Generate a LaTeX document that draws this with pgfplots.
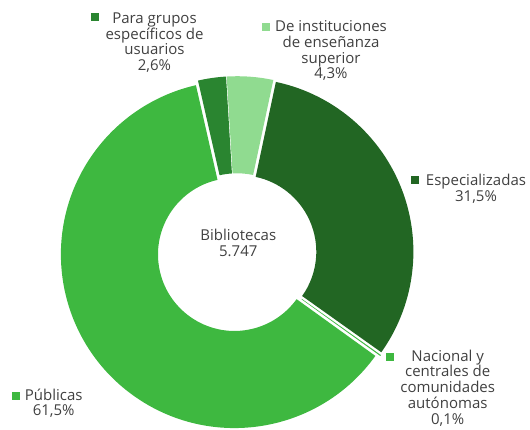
\documentclass[border=0pt]{standalone}
\usepackage{fontspec}
\setmainfont{Open Sans}
\usepackage{pgfplots}
\usepackage{pgfplotstable}
\pgfplotsset{compat=1.18}
\definecolor{publicas}{HTML}{3EB840}
\definecolor{grupos}{HTML}{2A8530}
\definecolor{instit}{HTML}{90DB90}
\definecolor{espec}{HTML}{226623}
\definecolor{txt}{HTML}{404040}

% share of each kind of library, clockwise from the first slice
\pgfplotstableread{
share color
31.5  espec
0.1   publicas
61.5  publicas
2.6   grupos
4.3   instit
}\slices

\def\cx{237}\def\cy{176.2}
\def\rout{173.6}\def\rin{76.5}
\def\startangle{78}\def\explode{3}
\tikzset{lbl/.style={font=\fontsize{15}{16}\selectfont, text=txt, inner sep=0pt, anchor=base}}

\begin{document}
\begin{tikzpicture}
\begin{axis}[
  scale only axis, width=530pt, height=429pt,
  xmin=0, xmax=530, ymin=0, ymax=429,
  hide axis, clip=false,
]
\coordinate (bbsw) at (axis cs:0,0);
\coordinate (bbne) at (axis cs:530,429);

\pgfplotstablegetrowsof{\slices}
\pgfmathtruncatemacro\nrows{\pgfplotsretval-1}
\def\cum{0}
\pgfplotsforeachungrouped \i in {0,...,\nrows}{
  \pgfplotstablegetelem{\i}{share}\of\slices \let\val\pgfplotsretval
  \pgfplotstablegetelem{\i}{color}\of\slices \let\col\pgfplotsretval
  \pgfmathsetmacro\aS{\startangle-3.6*\cum}
  \pgfmathsetmacro\aE{\startangle-3.6*(\cum+\val)}
  \pgfmathsetmacro\aM{(\aS+\aE)/2}
  \edef\temp{\noexpand\fill[\col, shift={(\aM:\explode pt)}]
    ([shift={(\aS:\rout pt)}]axis cs:\cx,\cy)
    arc[start angle=\aS, end angle=\aE, radius=\rout pt]
    -- ([shift={(\aE:\rin pt)}]axis cs:\cx,\cy)
    arc[start angle=\aE, end angle=\aS, radius=\rin pt] -- cycle;}
  \temp
  \pgfmathsetmacro\cum{\cum+\val}
}

% centre
\node[lbl] at (axis cs:238.3,189) {Bibliotecas};
\node[lbl] at (axis cs:238.3,173) {5.747};

% Para grupos
\fill[grupos] (axis cs:91,408) rectangle (axis cs:99,416);
\node[lbl] at (axis cs:154.5,405.7) {Para grupos};
\node[lbl] at (axis cs:154.5,389.9) {específicos de};
\node[lbl] at (axis cs:154.5,374.1) {usuarios};
\node[lbl] at (axis cs:154.5,358.3) {2,6\%};

% De instituciones
\fill[instit] (axis cs:261.5,398.3) rectangle (axis cs:269.5,406.3);
\node[lbl] at (axis cs:331,397.4) {De instituciones};
\node[lbl] at (axis cs:331,381.6) {de enseñanza};
\node[lbl] at (axis cs:331,365.8) {superior};
\node[lbl] at (axis cs:331,350.0) {4,3\%};

% Especializadas
\fill[espec] (axis cs:410.5,244.5) rectangle (axis cs:418.5,252.5);
\node[lbl] at (axis cs:476,243.5) {Especializadas};
\node[lbl] at (axis cs:476,227.7) {31,5\%};

% Nacional
\fill[publicas] (axis cs:386,68.3) rectangle (axis cs:394,76.3);
\node[lbl] at (axis cs:447.7,68) {Nacional y};
\node[lbl] at (axis cs:447.7,52.2) {centrales de};
\node[lbl] at (axis cs:447.7,36.4) {comunidades};
\node[lbl] at (axis cs:447.7,20.6) {autónomas};
\node[lbl] at (axis cs:447.7,4.8) {0,1\%};

% Publicas
\fill[publicas] (axis cs:11.5,29) rectangle (axis cs:19.5,37);
\node[lbl] at (axis cs:53.7,29) {Públicas};
\node[lbl] at (axis cs:53.7,13.2) {61,5\%};
\end{axis}
\pgfresetboundingbox
\path[use as bounding box] (bbsw) rectangle (bbne);
\end{tikzpicture}
\end{document}
